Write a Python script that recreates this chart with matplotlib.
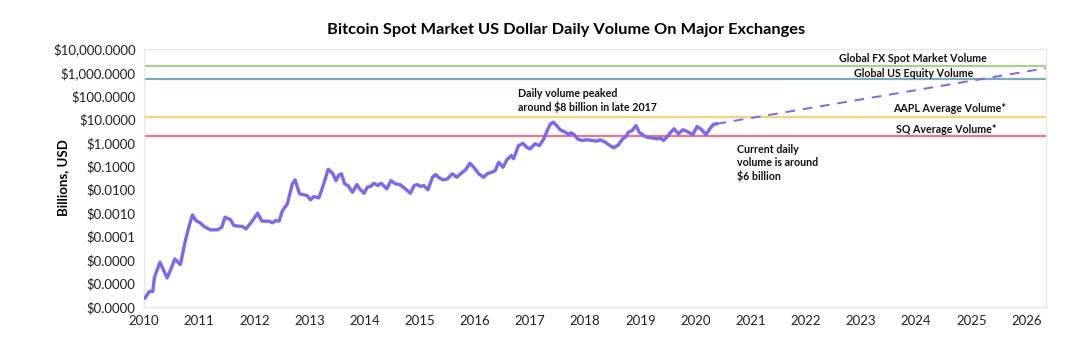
import numpy as np
import matplotlib.pyplot as plt
from matplotlib.ticker import FuncFormatter

plt.rcParams['font.family'] = ['Lato', 'DejaVu Sans']

# Bitcoin daily volume (year, log10 of billions USD)
btc_years = [2010.02, 2010.10, 2010.16, 2010.19, 2010.29, 2010.42, 2010.49, 2010.56,
             2010.66, 2010.75, 2010.82, 2010.88, 2010.94, 2011.03, 2011.09, 2011.21,
             2011.33, 2011.41, 2011.47, 2011.57, 2011.63, 2011.79, 2011.85, 2011.97,
             2012.06, 2012.14, 2012.27, 2012.33, 2012.39, 2012.45, 2012.51, 2012.60,
             2012.69, 2012.74, 2012.82, 2012.96, 2013.02, 2013.08, 2013.17, 2013.23,
             2013.34, 2013.42, 2013.48, 2013.53, 2013.58, 2013.64, 2013.70, 2013.78,
             2013.86, 2013.91, 2013.99, 2014.05, 2014.11, 2014.17, 2014.24, 2014.30,
             2014.40, 2014.48, 2014.56, 2014.64, 2014.74, 2014.83, 2014.90, 2014.96,
             2015.01, 2015.07, 2015.15, 2015.23, 2015.29, 2015.34, 2015.42, 2015.50,
             2015.59, 2015.67, 2015.74, 2015.83, 2015.91, 2015.98, 2016.07, 2016.16,
             2016.22, 2016.31, 2016.37, 2016.43, 2016.51, 2016.58, 2016.66, 2016.70,
             2016.79, 2016.87, 2016.94, 2017.00, 2017.09, 2017.17, 2017.25, 2017.31,
             2017.37, 2017.42, 2017.48, 2017.55, 2017.64, 2017.70, 2017.74, 2017.80,
             2017.86, 2017.94, 2018.03, 2018.12, 2018.21, 2018.27, 2018.36, 2018.45,
             2018.52, 2018.60, 2018.68, 2018.74, 2018.78, 2018.85, 2018.92, 2018.98,
             2019.06, 2019.12, 2019.21, 2019.30, 2019.36, 2019.42, 2019.48, 2019.55,
             2019.61, 2019.69, 2019.77, 2019.84, 2019.95, 2020.03, 2020.11, 2020.19,
             2020.26, 2020.32, 2020.38]
btc_log = [-6.61, -6.33, -6.34, -5.73, -5.09, -5.76, -5.37, -4.95,
           -5.19, -4.17, -3.53, -3.07, -3.31, -3.43, -3.57, -3.71,
           -3.71, -3.60, -3.17, -3.28, -3.53, -3.57, -3.67, -3.31,
           -3.00, -3.34, -3.34, -3.41, -3.31, -3.34, -2.89, -2.60,
           -1.75, -1.58, -2.17, -2.25, -2.43, -2.29, -2.35, -1.96,
           -1.13, -1.30, -1.61, -1.39, -1.32, -1.75, -1.82, -2.11,
           -1.78, -1.96, -2.15, -1.89, -1.86, -1.72, -1.82, -1.72,
           -1.96, -1.61, -1.75, -1.78, -1.96, -2.15, -1.82, -1.78,
           -1.86, -1.82, -2.00, -1.47, -1.35, -1.47, -1.58, -1.54,
           -1.32, -1.47, -1.32, -1.15, -0.87, -1.04, -1.32, -1.47,
           -1.32, -1.25, -1.18, -0.83, -1.04, -0.72, -0.54, -0.68,
           -0.12, -0.02, -0.19, -0.26, -0.04, -0.12, 0.17, 0.52,
           0.81, 0.88, 0.74, 0.55, 0.45, 0.35, 0.43, 0.35,
           0.17, 0.10, 0.13, 0.10, 0.07, 0.13, 0.03, -0.12,
           -0.21, -0.09, 0.17, 0.27, 0.45, 0.52, 0.74, 0.45,
           0.31, 0.24, 0.21, 0.17, 0.21, 0.10, 0.24, 0.45,
           0.60, 0.38, 0.56, 0.49, 0.35, 0.70, 0.56, 0.35,
           0.60, 0.78, 0.81]

# projected trend (dashed)
proj_years = [2020.38, 2026.35]
proj_log = [0.81, 3.18]

# reference volumes, billions USD
ref_names = ['Global FX Spot Market Volume', 'Global US Equity Volume',
             'AAPL Average Volume*', 'SQ Average Volume*']
ref_values = [1900, 550, 13, 1.9]
ref_colors = ['#a9d18e', '#7eaab9', '#fbd27a', '#e9788a']

years = list(range(2010, 2027))

fig = plt.figure(figsize=(10.8, 3.45), dpi=100)
ax = fig.add_axes([0.1333, 0.110, 0.835, 0.748])

for val, col in zip(ref_values, ref_colors):
    ax.axhline(val, color=col, lw=1.6, zorder=1)

ax.plot(btc_years, 10 ** np.array(btc_log), color='#7b68ee', lw=2.4, zorder=3)
ax.plot(proj_years, 10 ** np.array(proj_log), color='#7b68ee', lw=1.4,
        ls=(0, (5, 4)), zorder=3)

ax.set_yscale('log')
ax.set_ylim(1e-7, 1e4)
ax.set_yticks(10.0 ** np.arange(-7, 5))
ax.yaxis.set_major_formatter(FuncFormatter(lambda v, p: f"${v:,.4f}"))
ax.yaxis.set_minor_locator(plt.NullLocator())
ax.set_xlim(2010, 2026.35)
ax.set_xticks(years)
ax.set_xticklabels([str(y) for y in years])
ax.tick_params(length=0, labelsize=9.5, colors='#222222', pad=6)

for s in ax.spines.values():
    s.set_color('#e6e6e6')
    s.set_linewidth(1)

ax.set_ylabel('Billions, USD', fontsize=9.5, fontweight='bold')
ax.yaxis.set_label_coords(-0.083, 0.5)
fig.text(0.524, 0.913, 'Bitcoin Spot Market US Dollar Daily Volume On Major Exchanges',
         ha='center', va='center', fontsize=11.8, fontweight='bold')

kw = dict(fontsize=7.7, fontweight='bold', color='#111111')
ax.text(2023.95, 3900, ref_names[0], ha='center', va='center', **kw)
ax.text(2023.95, 900, ref_names[1], ha='center', va='center', **kw)
ax.text(2024.6, 29, ref_names[2], ha='center', va='center', **kw)
ax.text(2024.55, 3.7, ref_names[3], ha='center', va='center', **kw)
ax.text(2016.78, 62, 'Daily volume peaked\naround $8 billion in late 2017',
        ha='left', va='center', linespacing=1.2, **kw)
ax.text(2020.75, 0.85, 'Current daily\nvolume is around\n$6 billion',
        ha='left', va='top', linespacing=1.2, **kw)

fig.savefig('out.png', dpi=100)
